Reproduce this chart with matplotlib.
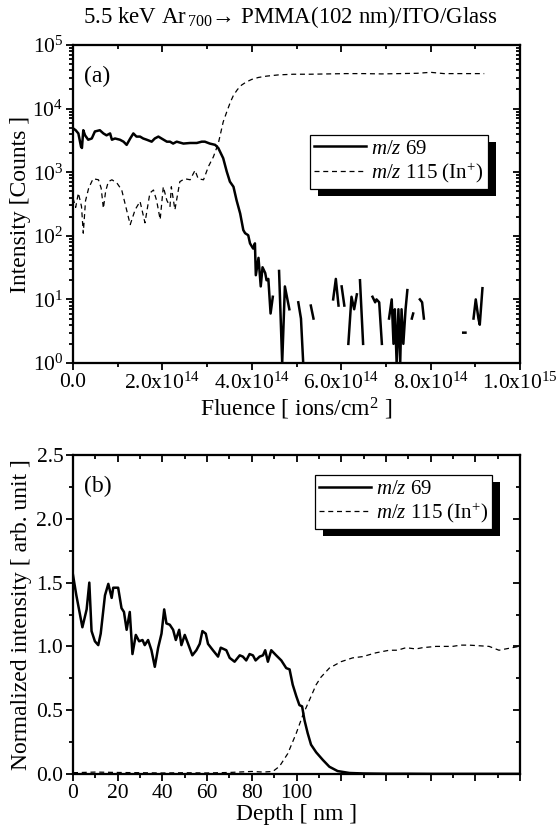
import numpy as np
import matplotlib
matplotlib.use("Agg")
import matplotlib.pyplot as plt
from matplotlib.patches import Rectangle
from matplotlib.ticker import FixedLocator, FixedFormatter, MultipleLocator, LogLocator, NullFormatter, FormatStrFormatter

plt.rcParams['font.family'] = ['Liberation Serif', 'DejaVu Serif']
plt.rcParams['mathtext.fontset'] = 'custom'
plt.rcParams['mathtext.rm'] = 'Liberation Serif'
plt.rcParams['mathtext.it'] = 'Liberation Serif:italic'
plt.rcParams['mathtext.bf'] = 'Liberation Serif:bold'

nan = np.nan
# ---------------- Panel (a) data: fluence in 1e14 ions/cm^2, intensity in counts
fl69 = [0.00, 0.06, 0.12, 0.18, 0.20, 0.23, 0.27, 0.34, 0.42, 0.49, 0.60, 0.68, 0.75, 0.83, 0.87,
        0.94, 1.05, 1.13, 1.20, 1.28, 1.35, 1.42, 1.50, 1.57, 1.65, 1.76, 1.83, 1.91, 1.98, 2.10,
        2.17, 2.24, 2.32, 2.47, 2.62, 2.77, 2.88, 2.95, 3.06, 3.18, 3.25, 3.36, 3.44, 3.51, 3.59,
        3.66, 3.74, 3.81, 3.85, 3.92, 3.96, 4.03, 4.07, 4.09, 4.15, 4.20, 4.24, 4.30, 4.33, 4.37,
        4.42, 4.47, 4.53, 4.61, 4.68, 4.74, 4.84, 4.94, 5.04, 5.10, 5.15, 5.24, 5.32, 5.38, 5.60,
        5.82, 5.88, 5.94, 5.98, 6.01, 6.07, 6.11, 6.16, 6.23, 6.29, 6.35, 6.39, 6.42, 6.49, 6.60,
        6.70, 6.76, 6.79, 6.85, 6.91, 6.99, 7.07, 7.13, 7.17, 7.20, 7.24, 7.28, 7.32, 7.35, 7.39,
        7.44, 7.48, 7.53, 7.58, 7.61, 7.70, 7.76, 7.81, 7.85, 8.30, 8.73, 8.78, 8.87, 8.96, 9.01,
        9.07, 9.10, 9.16]
cnt69 = [4900, 4570, 4070, 2510, 2400, 4570, 3800, 3240, 3390, 4370, 4570, 4070, 3800, 4070, 3240,
         3390, 3240, 3020, 2690, 3390, 4070, 3630, 3630, 3390, 3240, 3020, 3390, 3630, 3390, 3020,
         3020, 2820, 3020, 2820, 2880, 2880, 3020, 3020, 2820, 2690, 2400, 1660, 1020, 710, 590,
         360, 224, 123, 110, 102, 76, 63, 76, 24, 45, 16, 32, 26, 20, 21,
         6, 11, nan, 28, 1, 16, 7, nan, 9, 5, 1, nan, 8, 5, nan,
         10, 21, 8, nan, 16, 8, nan, 2, 11, 7, 12, nan, 20, 2, nan,
         11, 9, 10, 9, 2, nan, 5, 10, 2, 7, 1, 7, 1, 7, 2,
         7, 14, nan, 5, 6, nan, 10, 9, 5, nan, 3, 3, nan, 5, 10,
         5, 4, 15]

fl115 = [0.00, 0.06, 0.12, 0.19, 0.23, 0.28, 0.35, 0.45, 0.57, 0.63, 0.68, 0.73, 0.79, 0.87, 0.98,
         1.09, 1.16, 1.28, 1.39, 1.50, 1.61, 1.72, 1.80, 1.87, 1.95, 2.02, 2.10, 2.17, 2.20, 2.28,
         2.39, 2.50, 2.62, 2.73, 2.80, 2.92, 3.03, 3.14, 3.25, 3.36, 3.44, 3.52, 3.59, 3.68, 3.77,
         3.88, 4.00, 4.15, 4.33, 4.60, 4.93, 5.30, 5.70, 6.10, 6.50, 6.90, 7.30, 7.70, 8.00, 8.30,
         8.70, 9.20]
cnt115 = [390, 280, 470, 290, 110, 355, 560, 790, 760, 560, 270, 500, 710, 760, 680,
          525, 330, 150, 257, 347, 160, 470, 525, 360, 180, 590, 360, 290, 590, 257,
          710, 790, 760, 1070, 790, 760, 1230, 1740, 2820, 6170, 8900, 12600, 16200, 20000, 23400,
          26300, 28800, 30900, 32400, 33900, 34700, 34700, 35100, 35500, 35500, 35100, 35500, 35900, 37200, 35500,
          35500, 35500]

fl_ticks = [0, 2, 4, 6, 8, 10]
fl_labels = ["0.0", "2.0x10$^{14}$", "4.0x10$^{14}$", "6.0x10$^{14}$", "8.0x10$^{14}$", "1.0x10$^{15}$"]

# ---------------- Panel (b) data: depth in nm, normalized intensity
d69 = [0.0, 1.5, 4.2, 6.1, 7.3, 8.3, 9.8, 11.3, 12.4, 14.3, 15.8, 17.3, 18.0, 20.2, 21.7, 22.8, 24.0,
       25.4, 26.6, 28.1, 29.6, 31.1, 32.1, 33.6, 35.1, 36.6, 38.1, 39.6, 40.8, 41.8, 43.3, 44.8, 46.0,
       47.5, 48.5, 50.0, 51.5, 53.4, 55.2, 56.7, 57.9, 59.4, 60.4, 62.6, 64.9, 66.1, 68.6, 70.1, 72.3,
       74.6, 76.0, 77.5, 79.0, 80.5, 81.7, 83.5, 85.0, 86.0, 87.2, 88.7, 90.9, 93.2, 95.4, 96.9, 98.3,
       99.9, 101.3, 102.5, 103.6, 105.0, 106.5, 108.8, 111.8, 114.7, 118.4, 123.7, 130, 140, 150, 160,
       170, 180, 190, 200]
v69 = [1.56, 1.40, 1.15, 1.29, 1.50, 1.12, 1.04, 1.01, 1.10, 1.40, 1.49, 1.38, 1.46, 1.46, 1.30, 1.27, 1.13,
       1.27, 0.94, 1.09, 1.04, 1.05, 1.01, 1.05, 0.97, 0.84, 0.99, 1.10, 1.29, 1.18, 1.17, 1.13, 1.05,
       1.13, 1.01, 1.09, 1.02, 0.93, 0.97, 1.02, 1.12, 1.10, 1.02, 0.97, 0.92, 0.99, 0.97, 0.91, 0.88,
       0.93, 0.92, 0.89, 0.94, 0.93, 0.89, 0.92, 0.93, 0.97, 0.88, 0.97, 0.93, 0.89, 0.83, 0.82, 0.70,
       0.61, 0.54, 0.53, 0.42, 0.32, 0.23, 0.17, 0.11, 0.057, 0.023, 0.008, 0.004, 0.002, 0.002, 0.001,
       0.001, 0.001, 0.001, 0.001]

d115 = [0, 10, 20, 30, 40, 50, 60, 70, 80, 85, 89.4, 92.4, 96.1, 99.9, 102.8, 105.8, 108.8, 111.0,
        114.7, 119.9, 125.1, 129.6, 135.6, 141.5, 145.2, 149.0, 153.4, 156.4, 162.4, 169.8, 173.5,
        177.2, 186.2, 190.6, 196.5, 199.6]
v115 = [0.01, 0.015, 0.012, 0.01, 0.008, 0.01, 0.008, 0.012, 0.02, 0.015, 0.02, 0.06, 0.16, 0.32, 0.46,
        0.58, 0.70, 0.76, 0.83, 0.88, 0.91, 0.92, 0.95, 0.97, 0.97, 0.99, 0.98, 0.99, 1.00, 1.00, 1.01,
        1.01, 1.00, 0.97, 0.99, 1.00]

depth_ticks = [0, 20, 40, 60, 80, 100, 120, 140, 160, 180, 200]
depth_labels = ["0", "20", "40", "60", "80", "100", "", "", "", "", ""]

label69 = "$\\it{m/z}$ 69"
label115 = "$\\it{m/z}$ 115 (In$^{+}$)"

# ---------------- Figure
W, H = 559, 836
fig = plt.figure(figsize=(W / 100, H / 100), dpi=100)
axA = fig.add_axes([73 / W, 1 - 363 / H, 447 / W, 318 / H])
axB = fig.add_axes([73 / W, 1 - 774 / H, 447 / W, 319 / H])

TFS = 15.5   # tick labels
LFS = 17     # axis labels
GFS = 15     # legend
dash_style = (0, (4, 3))

def base_ticks(ax):
    for s in ax.spines.values():
        s.set_linewidth(1.5)
    ax.tick_params(which='both', direction='out', top=False, right=False, width=1.3,
                   labelsize=TFS, pad=2)
    ax.tick_params(which='major', length=5)
    ax.tick_params(which='minor', length=3)

def mirror_ticks(a, axis):
    for s in a.spines.values():
        s.set_linewidth(1.5)
    if axis == 'y':
        a.tick_params(which='both', direction='in', right=True, labelright=False, width=1.3)
    else:
        a.tick_params(which='both', direction='in', top=True, labeltop=False, width=1.3)
    a.tick_params(which='major', length=5)
    a.tick_params(which='minor', length=3)

# Panel (a)
fl69_a = np.array(fl69) * 1e14
fl115_a = np.array(fl115) * 1e14
axA.plot(fl69_a, cnt69, color='black', lw=1.8, label=label69)
axA.plot(fl115_a, cnt115, color='black', lw=0.9, linestyle=dash_style, label=label115)
axA.set_yscale('log')
axA.set_xlim(0, 1e15)
axA.set_ylim(1, 1e5)
axA.xaxis.set_major_locator(FixedLocator(np.array(fl_ticks) * 1e14))
axA.xaxis.set_major_formatter(FixedFormatter(fl_labels))
axA.xaxis.set_minor_locator(FixedLocator(np.arange(1, 10, 2) * 1e14))
axA.yaxis.set_major_locator(LogLocator(base=10, numticks=10))
axA.yaxis.set_minor_locator(LogLocator(base=10, subs=np.arange(2, 10), numticks=10))
axA.yaxis.set_minor_formatter(NullFormatter())
base_ticks(axA)

axA2 = axA.twinx()
axA2.set_yscale('log'); axA2.set_ylim(1, 1e5)
axA2.yaxis.set_major_locator(LogLocator(base=10, numticks=10))
axA2.yaxis.set_minor_locator(LogLocator(base=10, subs=np.arange(2, 10), numticks=10))
mirror_ticks(axA2, 'y')
axA3 = axA.twiny()
axA3.set_xlim(0, 1e15)
axA3.xaxis.set_major_locator(FixedLocator(np.array(fl_ticks) * 1e14))
axA3.xaxis.set_minor_locator(FixedLocator(np.arange(1, 10, 2) * 1e14))
mirror_ticks(axA3, 'x')

axA.set_xlabel("Fluence [ ions/cm$^{2}$ ]", fontsize=LFS, labelpad=1)
axA.set_ylabel("Intensity [Counts ]", fontsize=LFS, labelpad=1)
axA.text(0.025, 0.90, "(a)", transform=axA.transAxes, fontsize=LFS, va='center', ha='left')
fig.text(290 / W, 1 - 17 / H, "5.5 keV Ar$_{\\,700}$\u2192 PMMA(102 nm)/ITO/Glass", fontsize=16.5,
         ha='center', va='center')

# Panel (b)
axB.plot(d69, v69, color='black', lw=1.8, label=label69)
axB.plot(d115, v115, color='black', lw=0.9, linestyle=dash_style, label=label115)
axB.set_xlim(0, 200)
axB.set_ylim(0, 2.5)
axB.xaxis.set_major_locator(FixedLocator(depth_ticks))
axB.xaxis.set_major_formatter(FixedFormatter(depth_labels))
axB.xaxis.set_minor_locator(MultipleLocator(10))
axB.yaxis.set_major_locator(MultipleLocator(0.5))
axB.yaxis.set_major_formatter(FormatStrFormatter('%.1f'))
axB.yaxis.set_minor_locator(MultipleLocator(0.25))
base_ticks(axB)

axB2 = axB.twinx()
axB2.set_ylim(0, 2.5)
axB2.yaxis.set_major_locator(MultipleLocator(0.5))
axB2.yaxis.set_minor_locator(MultipleLocator(0.25))
mirror_ticks(axB2, 'y')
axB3 = axB.twiny()
axB3.set_xlim(0, 200)
axB3.xaxis.set_major_locator(FixedLocator(depth_ticks))
axB3.xaxis.set_minor_locator(MultipleLocator(10))
mirror_ticks(axB3, 'x')

axB.set_xlabel("Depth [ nm ]", fontsize=LFS, labelpad=1)
axB.set_ylabel("Normalized intensity [ arb. unit ]", fontsize=LFS, labelpad=3)
axB.text(0.025, 0.90, "(b)", transform=axB.transAxes, fontsize=LFS, va='center', ha='left')

# Legends with solid black drop shadow
def shadow_legend(ax, holder, anchor):
    leg = holder.legend(*ax.get_legend_handles_labels(), loc='upper left', bbox_to_anchor=anchor,
                        bbox_transform=ax.transAxes, borderaxespad=0, fancybox=False, framealpha=1,
                        edgecolor='black', fontsize=GFS, handlelength=2.5, handletextpad=0.25,
                        borderpad=0.2, labelspacing=0.1)
    leg.get_frame().set_linewidth(0.9)
    leg.set_zorder(10)
    return leg

legA = shadow_legend(axA, axA3, (0.530, 0.717))
legB = shadow_legend(axB, axB3, (0.541, 0.937))

fig.canvas.draw()
for leg, holder in ((legA, axA3), (legB, axB3)):
    bb = leg.get_window_extent()
    bbf = bb.transformed(fig.transFigure.inverted())
    dx, dy = 8 / W, 7 / H
    rect = Rectangle((bbf.x0 + dx, bbf.y0 - dy), bbf.width, bbf.height, transform=fig.transFigure,
                     facecolor='black', edgecolor='none', zorder=9)
    holder.add_artist(rect)
    rect.set_clip_on(False)

fig.savefig("out.png", dpi=100)
